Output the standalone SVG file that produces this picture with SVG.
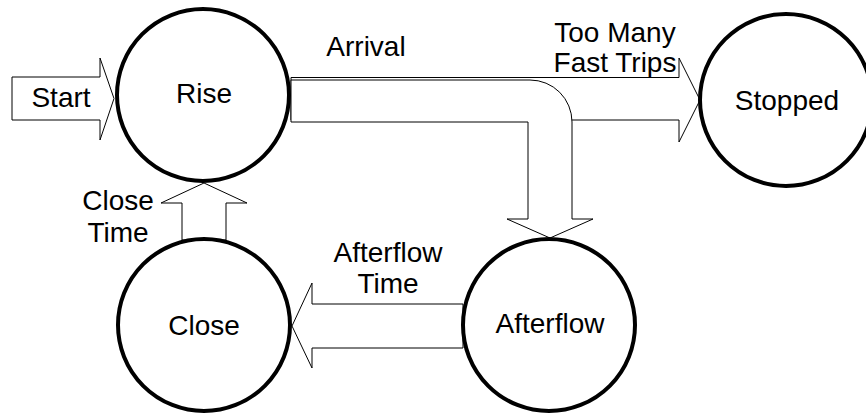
<svg xmlns="http://www.w3.org/2000/svg" width="866" height="413" viewBox="0 0 866 413">
<style>
.arr{fill:#fff;stroke:#000;stroke-width:1}
.node{fill:#fff;stroke:#000;stroke-width:4}
text{font-family:"Liberation Sans",Arial,sans-serif;font-size:28px;fill:#000;text-anchor:middle}
</style>
<rect width="866" height="413" fill="#fff"/>
<g id="connectors">
<polygon class="arr" points="12,77 100,77 100,58 114,98.5 100,140 100,120 12,120"/>
<polygon class="arr" points="291,77.5 679,77.5 679,58 700,100 679,142 679,120 291,120"/>
<path class="arr" d="M291,80 H530 A42,42 0 0 1 572,122 V219 H593 L550,238 L507,219 H528 V122 H291 Z"/>
<polygon class="arr" points="182,240 182,203 161,203 204,183 247,203 226,203 226,240"/>
<polygon class="arr" points="463,304 312,304 312,283 292,326 312,368 312,348 463,348"/>
</g>
<g id="labels">
<text x="61" y="107">Start</text>
<text x="366" y="56">Arrival</text>
<text x="615" y="42">Too Many</text>
<text x="615" y="72">Fast Trips</text>
<text x="118" y="210">Close</text>
<text x="118" y="242">Time</text>
<text x="388" y="262">Afterflow</text>
<text x="388" y="293">Time</text>
</g>
<g id="rise"><circle class="node" cx="203" cy="95" r="86"/><text x="204" y="103">Rise</text></g>
<g id="stopped"><circle class="node" cx="786" cy="100" r="86"/><text x="787" y="110">Stopped</text></g>
<g id="close"><circle class="node" cx="204" cy="325" r="86"/><text x="204" y="335">Close</text></g>
<g id="afterflow"><circle class="node" cx="549" cy="325" r="86"/><text x="550" y="333">Afterflow</text></g>
</svg>
